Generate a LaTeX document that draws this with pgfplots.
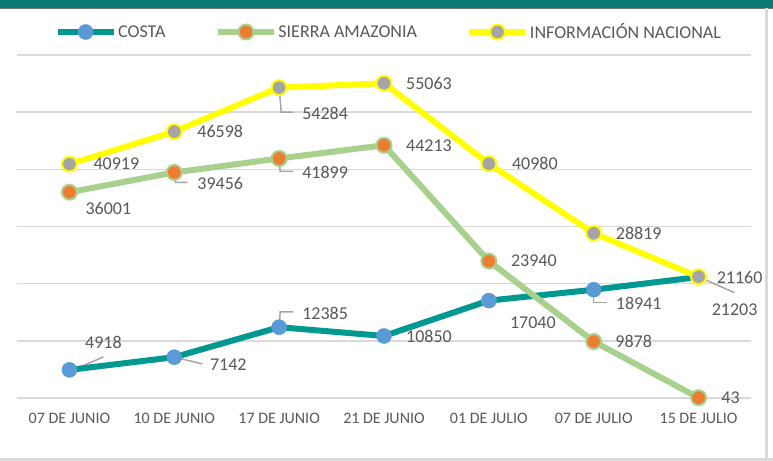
\documentclass[border=0pt]{standalone}
\usepackage{pgfplots}
\pgfplotsset{compat=1.18}
\usepackage{pgfplotstable}
\usepackage{fontspec}
\setmainfont{Carlito}
\definecolor{costaline}{RGB}{0,153,145}
\definecolor{costamark}{RGB}{91,155,213}
\definecolor{sierraline}{RGB}{169,209,142}
\definecolor{sierramark}{RGB}{237,125,49}
\definecolor{nacline}{RGB}{255,255,0}
\definecolor{nacmark}{RGB}{165,165,165}
\definecolor{textgray}{RGB}{89,89,89}
\definecolor{gridgray}{RGB}{217,217,217}
\definecolor{leadergray}{RGB}{166,166,166}
\definecolor{topbar}{RGB}{7,122,115}

\pgfplotstableread{
x y lab dx dy
0 4918 4918 34 27
1 7142 7142 54 -7
2 12385 12385 46 14
3 10850 10850 45 0
4 17040 17040 44 -22
5 18941 18941 45 -14
6 21160 21160 41 0
}\costa
\pgfplotstableread{
x y lab dx dy
0 36001 36001 39 -16
1 39456 39456 46 -11
2 41899 41899 46 -14
3 44213 44213 45 0
4 23940 23940 45 0
5 9878 9878 40 0
6 43 43 32 0
}\sierra
\pgfplotstableread{
x y lab dx dy
0 40919 40919 47 0
1 46598 46598 46 0
2 54284 54284 46 -26
3 55063 55063 45 0
4 40980 40980 46 0
5 28819 28819 45 0
6 21203 21203 36 -33
}\nacional

\pgfplotsset{
  lbl/.style={
    nodes near coords={\pgfplotspointmeta},
    point meta=explicit symbolic,
    visualization depends on={\thisrow{dx} \as \labdx},
    visualization depends on={\thisrow{dy} \as \labdy},
    nodes near coords style={anchor=center, xshift={\labdx*1bp}, yshift={\labdy*1bp},
      font=\fontsize{18bp}{21bp}\selectfont, text=textgray, inner sep=0pt},
  },
  leader/.style={leadergray, line width=1.5bp, forget plot},
}

\begin{document}
\begin{tikzpicture}
\path[use as bounding box] (0bp,0bp) rectangle (773bp,461bp);
\fill[white] (0bp,0bp) rectangle (773bp,461bp);
\fill[topbar] (0bp,453bp) rectangle (773bp,461bp);
\draw[black!55, line width=0.8bp] (0bp,453bp) -- (773bp,453bp);
\draw[gridgray, line width=3bp] (766.5bp,0bp) -- (766.5bp,452.6bp);
\draw[gridgray, line width=3bp] (0bp,1.5bp) -- (773bp,1.5bp);
\begin{axis}[
  at={(17bp,63bp)}, anchor=south west,
  scale only axis, width=734bp, height=343bp,
  xmin=-0.5, xmax=6.5, ymin=0, ymax=60000,
  clip=false,
  axis line style={draw=none},
  tick style={draw=none},
  major tick length=0pt,
  scaled y ticks=false,
  ytick={0,10000,20000,30000,40000,50000,60000},
  yticklabels={},
  ymajorgrids,
  grid style={color=gridgray, line width=1.4bp},
  xtick={0,1,2,3,4,5,6},
  xticklabels={07 DE JUNIO,10 DE JUNIO,17 DE JUNIO,21 DE JUNIO,01 DE JULIO,07 DE JULIO,15 DE JULIO},
  xticklabel style={font=\fontsize{16bp}{19bp}\selectfont, text=textgray, anchor=north, inner sep=0pt, yshift=-15bp},
  legend columns=3,
  legend style={at={(0.5062,1.067)}, anchor=center, draw=none, fill=none,
    font=\fontsize{18bp}{21bp}\selectfont, text=textgray,
    nodes={inner sep=1.5bp},
    /tikz/every even column/.append style={column sep=48bp}},
  legend cell align=left,
  legend image code/.code={\draw[mark repeat=2,mark phase=2,#1] plot coordinates {(0bp,0bp) (28bp,0bp) (56bp,0bp)};},
]
% leader lines
\addplot[leader] coordinates {(0.038,4911) (0.324,7191)};
\addplot[leader] coordinates {(1.029,7016) (1.267,5964)};
\addplot[leader] coordinates {(2,12385) (2.01,15084) (2.133,15084)};
\addplot[leader] coordinates {(5,18941) (5.0,16663) (5.124,16663)};
\addplot[leader] coordinates {(1,39456) (1.01,37711) (1.124,37711)};
\addplot[leader] coordinates {(2,41899) (2.01,39640) (2.133,39640)};
\addplot[leader] coordinates {(2,54284) (2.02,49989) (2.133,49989)};
\addplot[leader] coordinates {(6,21203) (6.343,18417)};

\addplot[lbl, costaline, line width=6bp, line join=round, mark=*, mark size=7.5bp,
  mark options={fill=costamark, draw=costamark, line width=0.5bp}]
  table[x=x, y=y, meta=lab] {\costa};
\addlegendentry{COSTA}
\addplot[lbl, sierraline, line width=6bp, line join=round, mark=*, mark size=7.5bp,
  mark options={fill=sierramark, draw=sierraline, line width=2bp}]
  table[x=x, y=y, meta=lab] {\sierra};
\addlegendentry{SIERRA AMAZONIA}
\addplot[lbl, nacline, line width=6bp, line join=round, mark=*, mark size=7.5bp,
  mark options={fill=nacmark, draw=nacline, line width=2bp}]
  table[x=x, y=y, meta=lab] {\nacional};
\addlegendentry{INFORMACIÓN NACIONAL}
\end{axis}
\end{tikzpicture}
\end{document}
